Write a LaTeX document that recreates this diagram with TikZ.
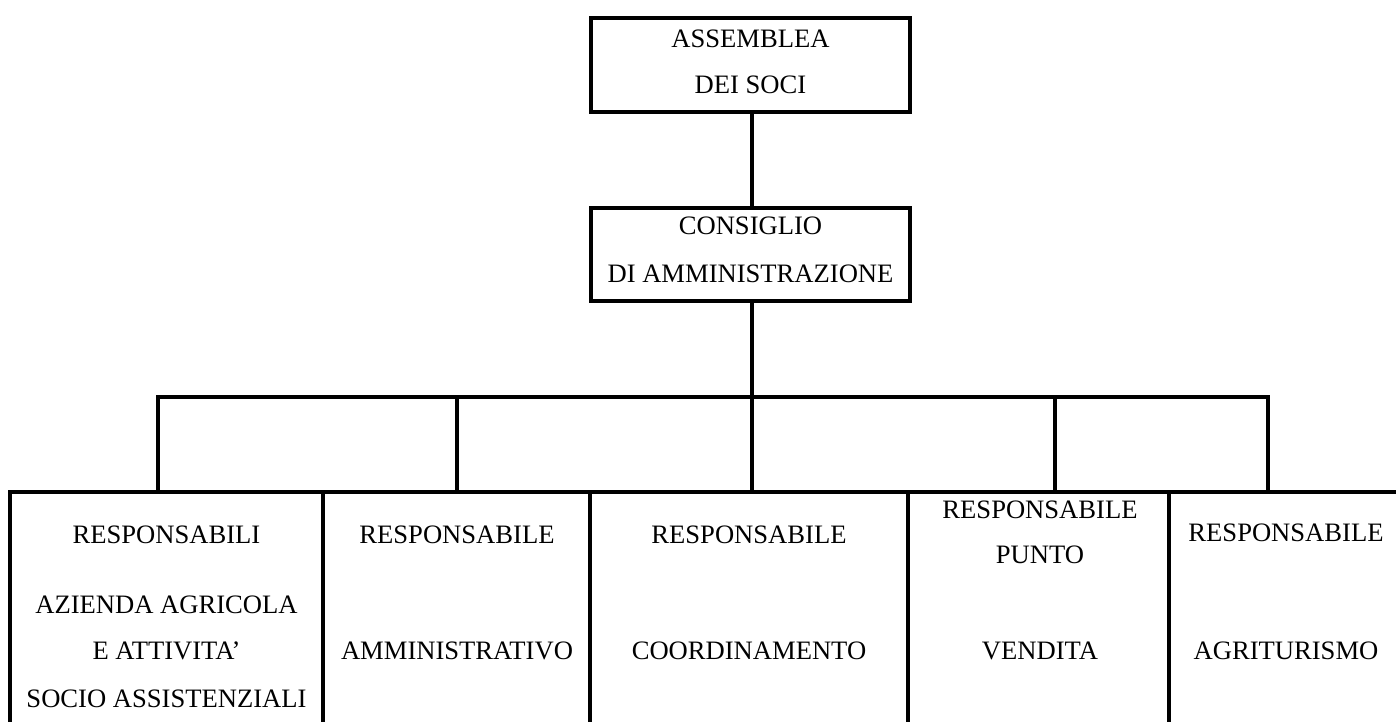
\documentclass[tikz,border=0pt]{standalone}
\usepackage{fontspec}
\setmainfont{Liberation Serif}
\usetikzlibrary{fit}
\begin{document}
\begin{tikzpicture}[x=0.5pt,y=-0.5pt,
  box/.style={draw, line width=1.8pt, inner sep=0pt},
  link/.style={draw, line width=1.8pt},
  txt/.style={anchor=base, inner sep=0pt, font=\fontsize{13.3pt}{16pt}\selectfont}]
\useasboundingbox (0,0) rectangle (1396,722);
\clip (0,0) rectangle (1396,722);
% boxes
\node[box, fit={(591,18) (910,112)}] (asm) {};
\node[box, fit={(591,208) (910,301)}] (cda) {};
\node[box, fit={(10,492) (323,760)}] (r1) {};
\node[box, fit={(323,492) (590,760)}] (r2) {};
\node[box, fit={(590,492) (908,760)}] (r3) {};
\node[box, fit={(908,492) (1169,760)}] (r4) {};
\node[box, fit={(1169,492) (1405,760)}] (r5) {};
% texts
\node[txt] (t1) at (750.5,47.3) {ASSEMBLEA};
\node[txt] (t2) at (750.5,93.8) {DEI SOCI};
\node[txt] (t3) at (750.5,234.8) {CONSIGLIO};
\node[txt] (t4) at (750.5,282.8) {DI AMMINISTRAZIONE};
\node[txt] (a1) at (166.5,543.3) {RESPONSABILI};
\node[txt] (a2) at (166.5,613.3) {AZIENDA AGRICOLA};
\node[txt] (a3) at (166.5,659.0) {E ATTIVITA’};
\node[txt] (a4) at (166.5,707.8) {SOCIO ASSISTENZIALI};
\node[txt] (b1) at (457,543.3) {RESPONSABILE};
\node[txt] (b2) at (457,659.8) {AMMINISTRATIVO};
\node[txt] (c1) at (749,543.3) {RESPONSABILE};
\node[txt] (c2) at (749,659.8) {COORDINAMENTO};
\node[txt] (d1) at (1040,518.8) {RESPONSABILE};
\node[txt] (d2) at (1040,563.8) {PUNTO};
\node[txt] (d3) at (1040,659.3) {VENDITA};
\node[txt] (e1) at (1286,541.0) {RESPONSABILE};
\node[txt] (e2) at (1286,659.5) {AGRITURISMO};
% connectors
\coordinate (j1) at (158,397);
\coordinate (j2) at (457,397);
\coordinate (j3) at (752,397);
\coordinate (j4) at (1055,397);
\coordinate (j5) at (1268,397);
\draw[link] (asm.south -| j3) -- (cda.north -| j3);
\draw[link] (cda.south -| j3) -- (j3);
\draw[link, line cap=rect] (j1) -- (j5);
\draw[link] (j1) -- (j1 |- r1.north);
\draw[link] (j2) -- (j2 |- r2.north);
\draw[link] (j3) -- (j3 |- r3.north);
\draw[link] (j4) -- (j4 |- r4.north);
\draw[link] (j5) -- (j5 |- r5.north);
\end{tikzpicture}
\end{document}
